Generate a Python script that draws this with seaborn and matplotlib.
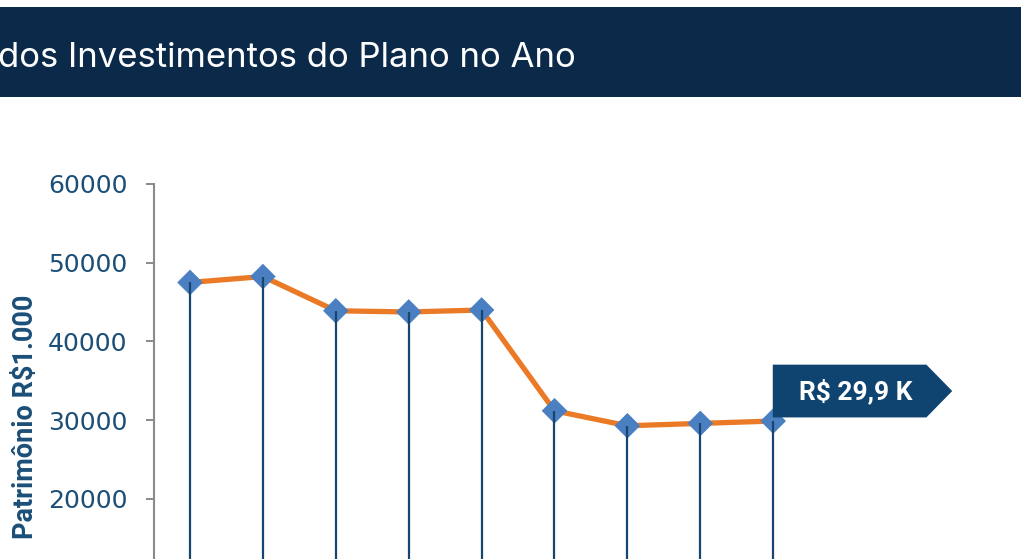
import matplotlib
matplotlib.use("Agg")
import matplotlib.pyplot as plt
from matplotlib.patches import Rectangle
from matplotlib.path import Path
import seaborn as sns
import pandas as pd

# ---- data ----
months = ["Jan", "Fev", "Mar", "Abr", "Mai", "Jun", "Jul", "Ago", "Set"]
patrimonio = [47500, 48250, 43900, 43750, 44000, 31200, 29300, 29600, 29900]
# ticks visible in the frame (the lower part of the axis lies below it)
yticks = [20000, 30000, 40000, 50000, 60000]
title = "dos Investimentos do Plano no Ano"
ylabel = "Patrimônio R\\$1.000"
last_label = "R\\$ 29,9 K"

df = pd.DataFrame({"idx": range(len(months)), "mes": months, "valor": patrimonio})

NAVY = "#0B2A4A"
BOX = "#0F4470"
TXT = "#1C4F78"
ORANGE = "#EA7A26"
BLUE = "#4A7FC1"
VLINE = "#18466E"

sns.set_theme(style="white")
W, H = 1021, 559
fig = plt.figure(figsize=(W / 100, H / 100), dpi=100)
fig.patch.set_facecolor("white")

# header band
fig.patches.append(Rectangle((0, 1 - 97 / H), 1, 90 / H, transform=fig.transFigure,
                             facecolor=NAVY, edgecolor="none", zorder=0))
fig.text(576 / W, 1 - 67 / H, title, color="white", fontsize=25, family="Inter",
         ha="right", va="baseline")

# axes: top at 60000 (y=184px), zero at y=656.5px (below the visible area)
y_top = 184
y_zero = 656.5
ax = fig.add_axes([154 / W, (H - y_zero) / H, 0.66, (y_zero - y_top) / H])
ax.set_facecolor("none")

ax.vlines(df["idx"], 0, df["valor"], color=VLINE, lw=1.6, zorder=4)
sns.lineplot(data=df, x="idx", y="valor", color=ORANGE, lw=3.8, ax=ax, zorder=2,
             legend=False)
sns.scatterplot(data=df, x="idx", y="valor", marker="D", s=170, color=BLUE,
                edgecolor="none", ax=ax, zorder=3, legend=False)

ax.set_ylim(0, 60000)
ax.set_xlim(-0.494, 8.75)
ax.set_yticks(yticks)
ax.set_yticklabels([str(t) for t in yticks])
# month labels sit below the visible area of the figure
ax.set_xticks(df["idx"])
ax.tick_params(axis="x", labelbottom=False, bottom=False)
ax.set_xlabel("")
ax.set_ylabel("")
ax.tick_params(axis="y", which="both", left=True, length=6, width=1.4,
               color="#8A8A8A", pad=13, labelsize=18, labelcolor=TXT)
for lab in ax.get_yticklabels():
    lab.set_family("DejaVu Sans")
for s in ["top", "right"]:
    ax.spines[s].set_visible(False)
for s in ["left", "bottom"]:
    ax.spines[s].set_color("#8A8A8A")
    ax.spines[s].set_linewidth(1.5)

# y label placed at its position in the visible frame
fig.text(25 / W, 1 - 417 / H, ylabel, rotation=90, fontsize=19.5, fontweight="bold",
         color=TXT, family="Roboto", ha="center", va="center")


def tag_box(x0, y0, width, height, mutation_size):
    m = mutation_size
    left = x0 - 1.0 * m
    flat = x0 + width + 0.52 * m
    tip = x0 + width + 1.5 * m
    yc = y0 + height / 2
    hh = 1.0 * m
    verts = [(left, yc - hh), (flat, yc - hh), (tip, yc), (flat, yc + hh),
             (left, yc + hh), (left, yc - hh)]
    return Path(verts, closed=True)


last = df.iloc[-1]
ax.annotate(last_label, xy=(last["idx"], last["valor"]), xytext=(18.7, 21.6),
            textcoords="offset points", ha="left", va="center", color="white",
            fontsize=19, fontweight="bold", family="Roboto", zorder=6,
            bbox=dict(boxstyle=tag_box, facecolor=BOX, edgecolor="none"),
            annotation_clip=False)

fig.savefig("out.png", dpi=100)
